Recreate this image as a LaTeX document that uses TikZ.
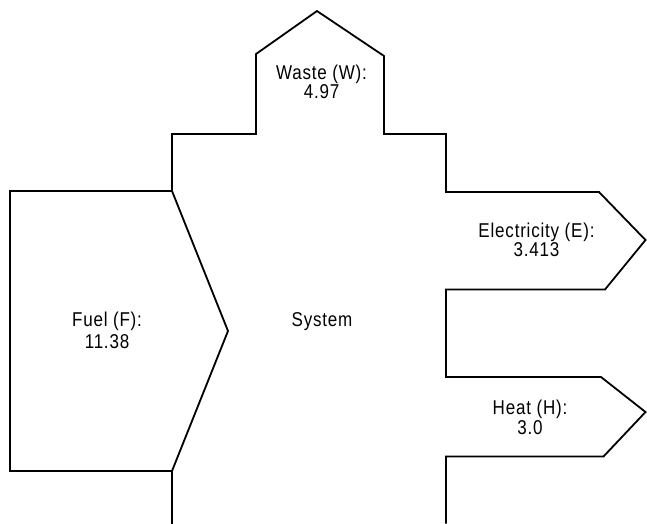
\documentclass[tikz,border=0pt]{standalone}
\usepackage{fontspec}
\setmainfont{Liberation Sans}[LetterSpace=4.0,FakeStretch=0.85]
\begin{document}
\begin{tikzpicture}[x=1pt,y=-1pt,
  outline/.style={draw=black,line width=1.8pt,line join=miter},
  lbl/.style={align=center,inner sep=0pt,font=\fontsize{20}{#1}\selectfont},
  lbl/.default=20]
\useasboundingbox (0,0) rectangle (647,523);
% system outline (top and right)
\draw[outline] (172,190) -- (172,134) -- (256,134) -- (256,54) -- (317,11) -- (384,56)
  -- (384,134) -- (446,134) -- (446,192) -- (599,192) -- (645.5,240) -- (605,289.5)
  -- (446,289.5) -- (446,377) -- (601,377) -- (645.5,412) -- (603.5,456.5)
  -- (446,456.5) -- (446,523.5);
% system outline (bottom left)
\draw[outline] (172,471) -- (172,523.5);
% fuel arrow
\draw[outline] (172,191) -- (10,191) -- (10,471) -- (172,471) -- (228,331) -- cycle;
% labels
\node[lbl=18.5] (waste) at (321.5,82) {Waste (W):\\4.97};
\node[lbl=19.5] (elec) at (536.5,240) {Electricity (E):\\3.413};
\node[lbl=20] (heat) at (530,417) {Heat (H):\\3.0};
\node[lbl=21.5] (fuel) at (107,330.5) {Fuel (F):\\11.38};
\node[lbl,anchor=base] (sys) at (322,326.5) {System};
\end{tikzpicture}
\end{document}
